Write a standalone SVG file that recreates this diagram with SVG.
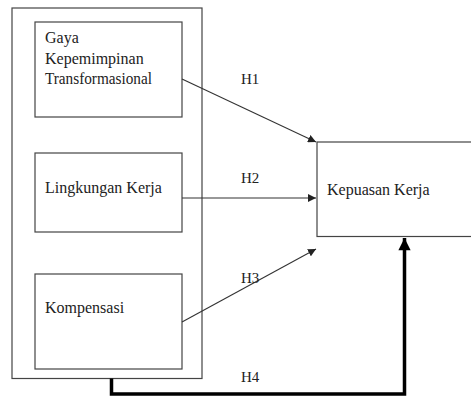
<svg xmlns="http://www.w3.org/2000/svg" width="471" height="398" viewBox="0 0 471 398">
<defs>
<style>
.box{fill:none;stroke:#444;stroke-width:1.2}
.t{font-family:"Liberation Serif","Times New Roman",serif;font-size:16px;fill:#222}
.h{font-family:"Liberation Serif","Times New Roman",serif;font-size:15px;fill:#222}
.c{fill:none;stroke:#333;stroke-width:1.1}
.thick{fill:none;stroke:#000;stroke-width:3.5}
</style>
<marker id="ah" viewBox="0 0 10 10" refX="10" refY="5" markerWidth="8" markerHeight="8" markerUnits="userSpaceOnUse" orient="auto">
<path d="M0,0 L10,5 L0,10 z" fill="#222"/>
</marker>
<marker id="ahb" viewBox="0 0 10 10" refX="10" refY="5" markerWidth="4" markerHeight="3.5" orient="auto">
<path d="M0,0 L10,5 L0,10 z" fill="#000"/>
</marker>
</defs>
<rect width="471" height="398" fill="#fff"/>
<g id="group-outer"><rect class="box" x="12" y="8" width="190" height="370.5"/></g>
<g id="node-gaya">
<rect class="box" x="35" y="22" width="147" height="95"/>
<text class="t" x="45" y="43">Gaya</text>
<text class="t" x="45" y="63.5">Kepemimpinan</text>
<text class="t" x="45" y="84" textLength="107" lengthAdjust="spacingAndGlyphs">Transformasional</text>
</g>
<g id="node-lingkungan">
<rect class="box" x="35" y="153" width="147" height="79"/>
<text class="t" x="45" y="193">Lingkungan Kerja</text>
</g>
<g id="node-kompensasi">
<rect class="box" x="35" y="274" width="147" height="95"/>
<text class="t" x="45" y="313">Kompensasi</text>
</g>
<g id="node-kepuasan">
<rect class="box" x="317" y="142" width="170" height="94.5"/>
<text class="t" x="327" y="195">Kepuasan Kerja</text>
</g>
<g id="connectors">
<line class="c" x1="182" y1="79" x2="316" y2="142" marker-end="url(#ah)"/>
<line class="c" x1="182" y1="198" x2="316" y2="198" marker-end="url(#ah)"/>
<line class="c" x1="182" y1="322" x2="316" y2="249" marker-end="url(#ah)"/>
<path class="thick" d="M111.5,378.5 V394 H404.5 V238" marker-end="url(#ahb)"/>
<text class="h" x="241" y="84">H1</text>
<text class="h" x="241" y="183">H2</text>
<text class="h" x="241" y="283">H3</text>
<text class="h" x="241" y="382">H4</text>
</g>
</svg>
